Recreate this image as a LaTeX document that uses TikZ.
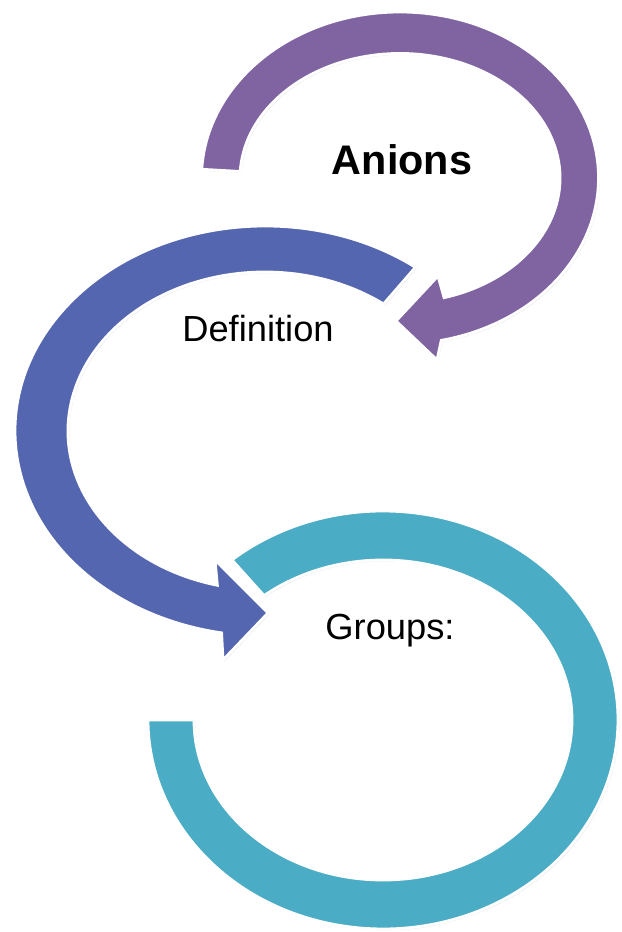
\documentclass[tikz,border=0pt]{standalone}
\usepackage{fontspec}
\setmainfont{Liberation Sans}
\usetikzlibrary{shadows,calc}
\definecolor{anionpurple}{HTML}{8064A2}
\definecolor{anionblue}{HTML}{5566B0}
\definecolor{anionteal}{HTML}{4BACC6}

\begin{document}
\begin{tikzpicture}[x=0.025cm, y=0.025cm]
        % Define styles for the bands and the texts
        \tikzset{
            band/.style={draw=white, line width=2pt, line join=miter,
                drop shadow={opacity=0.18, shadow xshift=1pt, shadow yshift=-1pt}},
            cycletext/.style={anchor=base, inner sep=0pt, font=\fontsize{25.8}{30}\selectfont}
        }
        \useasboundingbox (0,0) rectangle (621,932);
        % Centres of the three rings
        \coordinate (tc) at (383,212);
        \coordinate (bc) at (265,501);
        \coordinate (pc) at (400,754);
        % Teal ring at the bottom
        \path[band, fill=anionteal] (tc) ++(130:235 and 209)
            arc[start angle=130, end angle=-180, x radius=235, y radius=209]
            -- ($(tc)+(-180:189 and 160)$)
            arc[start angle=-180, end angle=129, x radius=189, y radius=160] -- cycle;
        % Blue arrow in the middle
        \path[band, fill=anionblue] (bc) ++(53:250 and 205)
            arc[start angle=53, end angle=260, x radius=250, y radius=205]
            -- (223,272) -- (268,319) -- (215,372)
            -- ($(bc)+(256:197 and 159)$)
            arc[start angle=256, end angle=53, x radius=197, y radius=159] -- cycle;
        % Purple arrow at the top
        \path[band, fill=anionpurple] (pc) ++(177:198.5 and 166)
            arc[start angle=177, end angle=-78, x radius=198.5, y radius=166]
            -- (437,572) -- (396,611) -- (438,656)
            -- ($(pc)+(-74:160 and 124.5)$)
            arc[start angle=-74, end angle=177, x radius=160, y radius=124.5] -- cycle;
        % Texts
        \node[cycletext, font=\fontsize{29.4}{34}\selectfont\bfseries] (anions) at (402,757) {Anions};
        \node[cycletext] (definition) at (258,590) {Definition};
        \node[cycletext] (groups) at (390,292) {Groups:};
    \end{tikzpicture}
\end{document}
